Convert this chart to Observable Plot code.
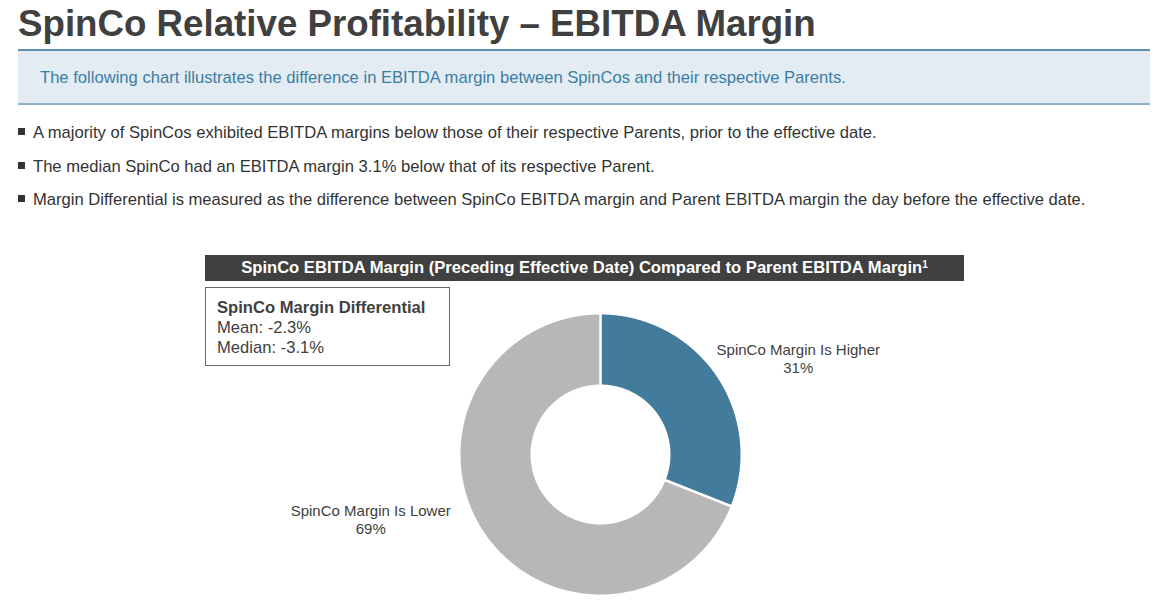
<!DOCTYPE html>
<html>
<head>
<meta charset="utf-8">
<script src="https://cdn.jsdelivr.net/npm/d3@7"></script>
<script src="https://cdn.jsdelivr.net/npm/@observablehq/plot@0.6"></script>
<style>
  html, body { margin: 0; padding: 0; background: #fff; }
  body { width: 1162px; height: 611px; position: relative; overflow: hidden; font-family: "Liberation Sans", Arial, sans-serif; color: #404040; }
  .abs { position: absolute; }
  #title { left: 18px; top: 2px; font-size: 36.7px; line-height: 44px; font-weight: bold; color: #404040; white-space: nowrap; }
  #band { left: 18px; top: 49px; width: 1132px; height: 56px; background: #E3ECF3; border-top: 2px solid #5E8FAE; border-bottom: 2px solid #8EB1C8; box-sizing: border-box; }
  #band span { position: absolute; left: 22px; top: 17px; font-size: 16.6px; line-height: 20px; color: #3B7EA3; white-space: nowrap; }
  .bullet { left: 18px; font-size: 16.6px; line-height: 20px; color: #333; white-space: nowrap; }
  .bullet i { display: inline-block; width: 7px; height: 7px; background: #333; margin-right: 8px; vertical-align: 3px; }
  #hdr { left: 205px; top: 255px; width: 759px; height: 26px; background: #404040; color: #fff; font-weight: bold; font-size: 16.6px; text-align: center; line-height: 26px; white-space: nowrap; }
  #hdr sup { font-size: 10px; vertical-align: 5px; line-height: 0; }
  #info { left: 205px; top: 287px; width: 245px; height: 79px; border: 1.5px solid #666; box-sizing: border-box; padding: 10px 0 0 11px; font-size: 16.6px; line-height: 20px; color: #404040; }
  #chart { left: 205px; top: 285px; }
</style>
</head>
<body>
<div id="title" class="abs">SpinCo Relative Profitability – EBITDA Margin</div>
<div id="band" class="abs"><span>The following chart illustrates the difference in EBITDA margin between SpinCos and their respective Parents.</span></div>
<div class="abs bullet" style="top:123px"><i></i>A majority of SpinCos exhibited EBITDA margins below those of their respective Parents, prior to the effective date.</div>
<div class="abs bullet" style="top:157px"><i></i>The median SpinCo had an EBITDA margin 3.1% below that of its respective Parent.</div>
<div class="abs bullet" style="top:190px"><i></i>Margin Differential is measured as the difference between SpinCo EBITDA margin and Parent EBITDA margin the day before the effective date.</div>
<div id="hdr" class="abs">SpinCo EBITDA Margin (Preceding Effective Date) Compared to Parent EBITDA Margin<sup>1</sup></div>
<div id="info" class="abs"><b>SpinCo Margin Differential</b><br>Mean: -2.3%<br>Median: -3.1%</div>
<div id="chart" class="abs"></div>
<script>
// Data
const categories = ["SpinCo Margin Is Higher", "SpinCo Margin Is Lower"];
const shares = [31, 69];
const colors = ["#427B9B", "#B7B7B7"];
const statLabels = ["Mean", "Median"];
const statValues = [-2.3, -3.1];

// Build donut polygons from data via d3.pie
const innerR = 0.5, outerR = 1;
const pie = d3.pie().sort(null).value(d => d.share);
const slices = pie(categories.map((c, i) => ({category: c, share: shares[i]})));
const polys = [];
const seps = [];
slices.forEach(s => {
  const n = Math.max(8, Math.ceil((s.endAngle - s.startAngle) / 0.01));
  const pts = [];
  for (let k = 0; k <= n; k++) {
    const a = s.startAngle + (s.endAngle - s.startAngle) * k / n;
    pts.push({a, r: outerR});
  }
  for (let k = n; k >= 0; k--) {
    const a = s.startAngle + (s.endAngle - s.startAngle) * k / n;
    pts.push({a, r: innerR});
  }
  pts.push(pts[0]);
  pts.forEach(p => polys.push({category: s.data.category, x: p.r * Math.sin(p.a), y: p.r * Math.cos(p.a)}));
  [innerR, outerR].forEach(r => seps.push({id: s.data.category, x: r * Math.sin(s.startAngle), y: r * Math.cos(s.startAngle)}));
});

const W = 760, H = 320, R = 140;
const cx = 395, cy = 169; // donut centre within svg (px)

// label anchored at slice mid-angle, shifted outward (pixel offsets converted to units)
const labelOffsets = [[82, 18], [-114, 14]];
const labels = slices.map((s, i) => {
  const mid = (s.startAngle + s.endAngle) / 2;
  return {
    category: s.data.category,
    share: s.data.share,
    x: Math.sin(mid) + labelOffsets[i][0] / R,
    y: Math.cos(mid) + labelOffsets[i][1] / R
  };
});

const chart = Plot.plot({
  width: W, height: H,
  margin: 0,
  x: {domain: [-cx / R, (W - cx) / R], axis: null},
  y: {domain: [-(H - cy) / R, cy / R], axis: null},
  color: {domain: categories, range: colors},
  style: {fontFamily: "'Liberation Sans', Arial, sans-serif", background: "transparent"},
  marks: [
    Plot.line(polys, {x: "x", y: "y", z: "category", fill: "category", stroke: "none", curve: "linear"}),
    Plot.line(seps, {x: "x", y: "y", z: "id", stroke: "white", strokeWidth: 2.5}),
    Plot.text(labels, {
      x: "x", y: "y",
      text: d => `${d.category}\n${d.share}%`,
      fontSize: 15, fill: "#404040", lineHeight: 1.2
    })
  ]
});
document.getElementById("chart").appendChild(chart);
</script>
</body>
</html>
